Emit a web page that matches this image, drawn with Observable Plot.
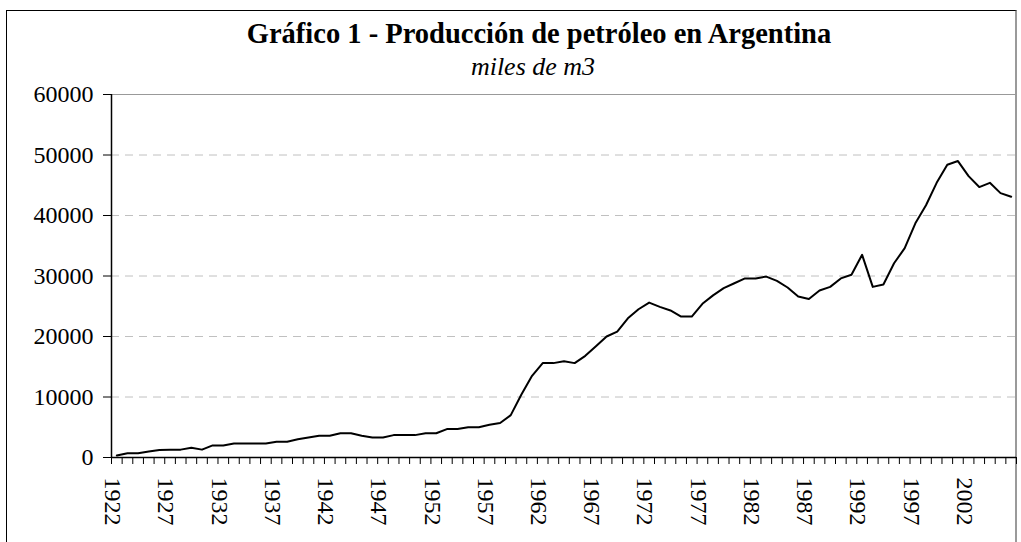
<!DOCTYPE html>
<html>
<head>
<meta charset="utf-8">
<script src="https://cdn.jsdelivr.net/npm/d3@7"></script>
<script src="https://cdn.jsdelivr.net/npm/@observablehq/plot@0.6"></script>
<style>
  html, body { margin: 0; padding: 0; background: #fff; overflow: hidden; }
  #wrap { position: relative; width: 1021px; height: 542px; overflow: hidden; font-family: "Liberation Serif", "Times New Roman", serif; }
  #frame { position: absolute; left: 6px; top: 10px; width: 1008px; height: 600px; border-left: 1px solid #000; border-top: 1px solid #000; border-right: 2px solid #9a9a9a; }
  #title { position: absolute; left: 0; width: 1078px; top: 18px; text-align: center; font-weight: bold; font-size: 28.5px; line-height: 1.15; }
  #subtitle { position: absolute; left: 0; width: 1066px; top: 52px; text-align: center; font-style: italic; font-size: 26px; line-height: 1.15; }
  #chart { position: absolute; left: 0; top: 0; }
  #chart svg text { font-family: "Liberation Serif", "Times New Roman", serif; }
</style>
</head>
<body>
<div id="wrap">
  <div id="frame"></div>
  <div id="title">Gráfico 1 - Producción de petróleo en Argentina</div>
  <div id="subtitle">miles de m3</div>
  <div id="chart"></div>
</div>
<script>
const years = [1922,1923,1924,1925,1926,1927,1928,1929,1930,1931,1932,1933,1934,1935,1936,1937,1938,1939,1940,1941,
  1942,1943,1944,1945,1946,1947,1948,1949,1950,1951,1952,1953,1954,1955,1956,1957,1958,1959,1960,1961,
  1962,1963,1964,1965,1966,1967,1968,1969,1970,1971,1972,1973,1974,1975,1976,1977,1978,1979,1980,1981,
  1982,1983,1984,1985,1986,1987,1988,1989,1990,1991,1992,1993,1994,1995,1996,1997,1998,1999,2000,2001,
  2002,2003,2004,2005,2006];
const production = [330,700,700,1000,1250,1300,1300,1600,1300,2000,2000,2300,2300,2300,2300,2600,2600,3000,3300,3600,
  3600,4000,4000,3600,3300,3300,3700,3700,3700,4000,4000,4700,4700,5000,5000,5400,5700,7000,10400,13500,
  15600,15600,15900,15600,16800,18400,20000,20800,23000,24500,25600,24900,24300,23300,23300,25400,26800,28000,28800,29600,
  29600,29900,29200,28100,26600,26200,27600,28200,29600,30200,33500,28200,28600,32100,34600,38700,41700,45400,48400,49000,
  46500,44700,45400,43700,43100];
const yTicks = [0,10000,20000,30000,40000,50000,60000];
const gridValues = [10000,20000,30000,40000,50000];
const xLabelYears = [1922,1927,1932,1937,1942,1947,1952,1957,1962,1967,1972,1977,1982,1987,1992,1997,2002];

const first = years[0] - 0.5;
const last = years[years.length - 1] + 0.5;
const boundaries = years.map(y => y - 0.5).concat([last]);
const serif = "'Liberation Serif', 'Times New Roman', serif";

const chart = Plot.plot({
  width: 1021,
  height: 542,
  marginTop: 94,
  marginLeft: 111,
  marginRight: 5,
  marginBottom: 85,
  style: { fontFamily: serif, background: "transparent", overflow: "visible" },
  x: { domain: [first, last], axis: null },
  y: { domain: [0, 60000], axis: null },
  marks: [
    Plot.ruleY(gridValues, { stroke: "#c0c0c0", strokeDasharray: "8,6" }),
    Plot.ruleY([60000], { stroke: "#999999" }),
    Plot.axisY({ ticks: yTicks, tickSize: 8, tickPadding: 10, tickFormat: d => String(d), fontSize: 24, fontFamily: serif, stroke: "#000", color: "#000" }),
    Plot.axisX({ ticks: boundaries, tickSize: 7, tickFormat: () => "", stroke: "#000" }),
    Plot.axisX({ ticks: xLabelYears, tickSize: 0, tickPadding: 20, tickRotate: 90, dx: -4, tickFormat: d => String(d), fontSize: 24, fontFamily: serif, color: "#000" }),
    Plot.ruleX([first], { stroke: "#000", strokeWidth: 1.5 }),
    Plot.ruleY([0], { stroke: "#000", strokeWidth: 1.5 }),
    Plot.lineY(production, { x: years, y: production, stroke: "#000", strokeWidth: 2 })
  ]
});
document.getElementById("chart").appendChild(chart);
</script>
</body>
</html>
